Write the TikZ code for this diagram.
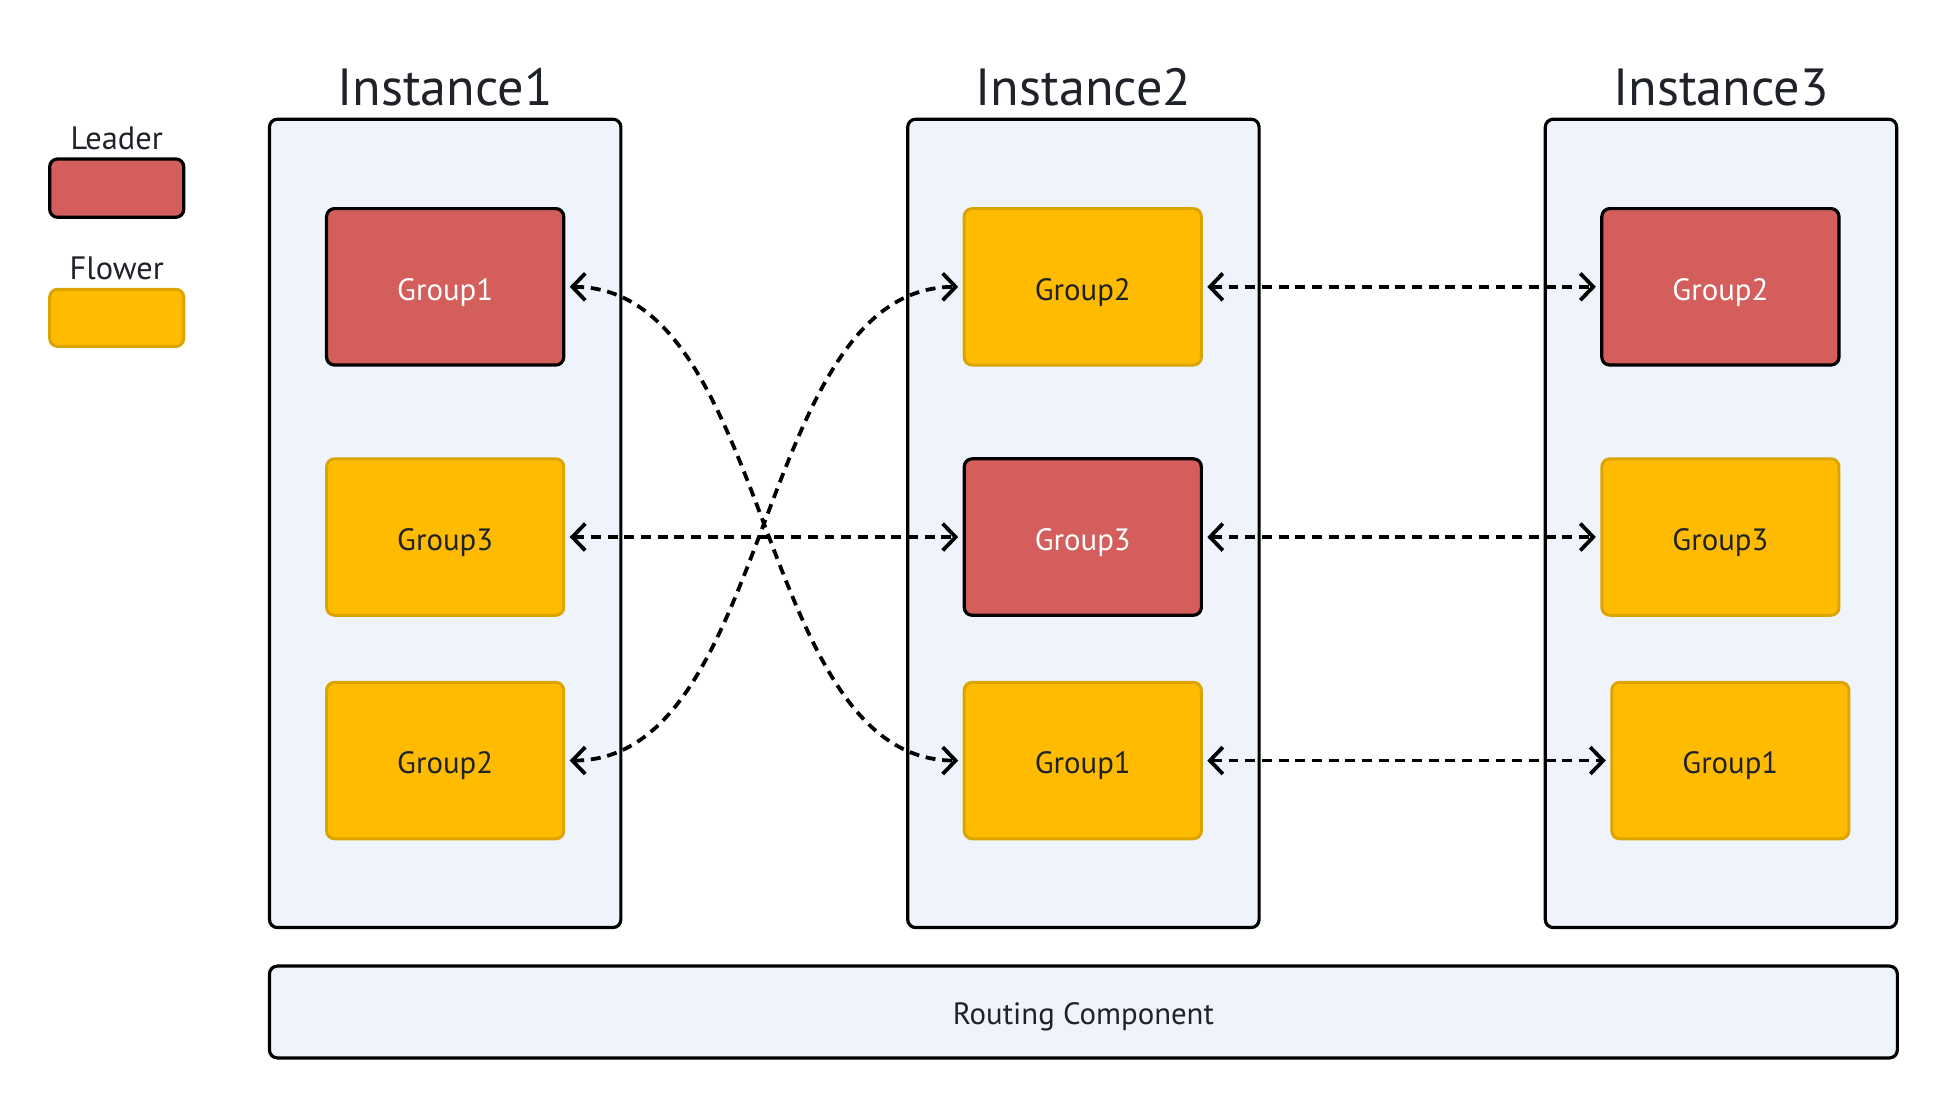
\documentclass[tikz,border=0pt]{standalone}
\usepackage{fontspec}
\setmainfont{PT Sans}
\usetikzlibrary{arrows.meta}
\definecolor{leaderred}{HTML}{D45E5C}
\definecolor{flowerfill}{HTML}{FFBB00}
\definecolor{flowerline}{HTML}{DBA400}
\definecolor{instfill}{HTML}{EEF3FC}
\definecolor{txt}{HTML}{1F2329}
\tikzset{
  inst/.style={draw=black, fill=instfill, line width=1.6pt, rounded corners=4pt,
    inner sep=0pt, minimum width={283*0.625pt}, minimum height={651*0.625pt}},
  leader/.style={draw=black, fill=leaderred, line width=1.6pt, rounded corners=4pt,
    inner sep=0pt, outer sep=3pt, minimum width={191*0.625pt}, minimum height={126*0.625pt},
    text=white, font=\fontsize{15.5}{18}\selectfont, text height=13.4pt, text depth=0pt},
  flower/.style={draw=flowerline, fill=flowerfill, line width=1.5pt, rounded corners=4pt,
    inner sep=0pt, outer sep=3pt, minimum width={191*0.625pt}, minimum height={126*0.625pt},
    text=txt, font=\fontsize{15.5}{18}\selectfont, text height=13.4pt, text depth=0pt},
  legleader/.style={leader, minimum width={108*0.625pt}, minimum height={47*0.625pt}, outer sep=0pt},
  legflower/.style={flower, minimum width={108*0.625pt}, minimum height={46*0.625pt}, outer sep=0pt},
  title/.style={text=txt, font=\fontsize{26.3}{30}\selectfont, anchor=base, inner sep=0pt},
  smalltxt/.style={text=txt, font=\fontsize{15.5}{18}\selectfont, anchor=base, inner sep=0pt},
  legtxt/.style={smalltxt, font=\fontsize{16.3}{19}\selectfont},
  link/.style={line width=1.9pt, dash pattern=on 5pt off 3.4pt,
    {Straight Barb[length=6.5pt,width=13.5pt]}-{Straight Barb[length=6.5pt,width=13.5pt]}},
}
\begin{document}
\begin{tikzpicture}[x=0.625pt, y=-0.625pt]
\useasboundingbox (0,0) rectangle (1568.8,893.9);
% legend
\node[legtxt] (lgl) at (94,120) {Leader};
\node[legleader] (lgbox1) at (94,151.5) {};
\node[legtxt] (lgf) at (94,225) {Flower};
\node[legflower] (lgbox2) at (94,256) {};
% titles
\node[title] (t1) at (358.5,85) {Instance1};
\node[title] (t2) at (872.5,85) {Instance2};
\node[title] (t3) at (1386,85) {Instance3};
% instance boxes
\node[inst] (in1) at (358.5,421.5) {};
\node[inst] (in2) at (872.5,421.5) {};
\node[inst] (in3) at (1386,421.5) {};
% routing
\node[inst, minimum width={1311*0.625pt}, minimum height={74*0.625pt}] (rc) at (872.5,815) {};
\node[smalltxt] (rct) at (872.5,825) {Routing Component};
% groups instance1
\node[leader] (a1) at (358.5,231) {Group1};
\node[flower] (a3) at (358.5,432.5) {Group3};
\node[flower] (a2) at (358.5,612.5) {Group2};
% groups instance2
\node[flower] (b2) at (872,231) {Group2};
\node[leader] (b3) at (872,432.5) {Group3};
\node[flower] (b1) at (872,612.5) {Group1};
% groups instance3
\node[leader] (c2) at (1385.5,231) {Group2};
\node[flower] (c3) at (1385.5,432.5) {Group3};
\node[flower] (c1) at (1393.5,612.5) {Group1};
% links
\draw[link] (b2.east) -- (c2.west);
\draw[link] (a3.east) -- (b3.west);
\draw[link] (b3.east) -- (c3.west);
\draw[link] (b1.east) -- (c1.west);
\draw[link] (a1.east) .. controls +(165,0) and +(-165,0) .. (b1.west);
\draw[link] (a2.east) .. controls +(165,0) and +(-165,0) .. (b2.west);
\end{tikzpicture}
\end{document}
